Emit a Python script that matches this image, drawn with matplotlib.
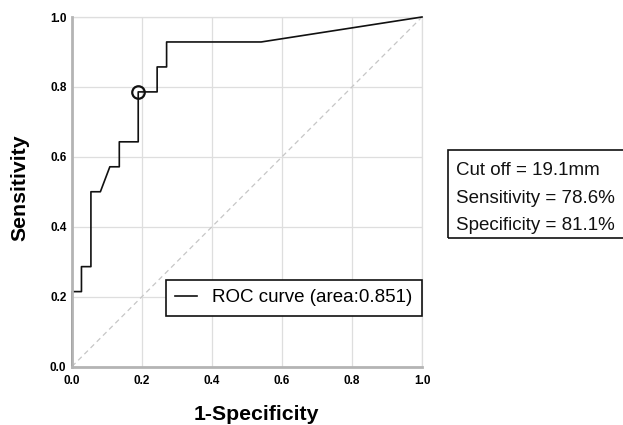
import matplotlib
matplotlib.use("Agg")
import matplotlib.pyplot as plt
from matplotlib.patches import Rectangle

plt.rcParams['font.family'] = ['Liberation Sans', 'DejaVu Sans']

# ROC curve data (1-specificity, sensitivity)
fpr = [0.0, 0.0, 1/37, 1/37, 2/37, 2/37, 3/37, 4/37, 5/37, 5/37, 7/37, 7/37,
       9/37, 9/37, 10/37, 10/37, 20/37, 1.0]
tpr = [0.0, 3/14, 3/14, 4/14, 4/14, 7/14, 7/14, 8/14, 8/14, 9/14, 9/14, 11/14,
       11/14, 12/14, 12/14, 13/14, 13/14, 1.0]
cut_fpr = 7/37
cut_tpr = 11/14
ticks = [0.0, 0.2, 0.4, 0.6, 0.8, 1.0]
tick_labels = ["0.0", "0.2", "0.4", "0.6", "0.8", "1.0"]
legend_label = "ROC curve (area:0.851)"
info_lines = ["Cut off = 19.1mm", "Sensitivity = 78.6%", "Specificity = 81.1%"]

W, H = 623, 425
fig = plt.figure(figsize=(W/100, H/100), dpi=100)
ax = fig.add_axes([72/W, (H-366.5)/H, 350/W, 349.5/H])

ax.set_xlim(0, 1)
ax.set_ylim(0, 1)
ax.grid(True, color='#dedede', linewidth=0.9)
ax.set_axisbelow(True)

ax.plot([0, 1], [0, 1], color='#c6c6c6', linewidth=0.9, dashes=(4, 3), zorder=2)
ax.plot(fpr, tpr, color='#111111', linewidth=1.2, label=legend_label, zorder=3,
        clip_on=False)
ax.plot([cut_fpr], [cut_tpr], marker='o', markersize=9, markerfacecolor='none',
        markeredgecolor='#111111', markeredgewidth=1.6, linestyle='none', zorder=4)

ax.set_xticks(ticks)
ax.set_xticklabels(tick_labels)
ax.set_yticks(ticks)
ax.set_yticklabels(tick_labels)
ax.tick_params(length=0, labelsize=8.5)
ax.tick_params(axis='x', pad=6)
ax.tick_params(axis='y', pad=4)
for lab in ax.get_xticklabels() + ax.get_yticklabels():
    lab.set_fontweight('bold')

for s in ['left', 'bottom']:
    ax.spines[s].set_color('#b4b4b4')
    ax.spines[s].set_linewidth(2.0)
    ax.spines[s].set_zorder(5)
for s in ['top', 'right']:
    ax.spines[s].set_color('#dedede')
    ax.spines[s].set_linewidth(0.9)

ax.set_xlabel('1-Specificity', fontsize=15.3, fontweight='bold')
ax.set_ylabel('Sensitivity', fontsize=15.3, fontweight='bold')
ax.xaxis.set_label_coords(0.526, -0.109)
ax.yaxis.set_label_coords(-0.121, 0.511)

leg = ax.legend(loc='lower right', bbox_to_anchor=(1.0, 0.145), borderaxespad=0,
                fontsize=13.5, handlelength=1.2, handletextpad=0.8,
                borderpad=0.5, fancybox=False, framealpha=1, edgecolor='#111111')
leg.get_frame().set_linewidth(1.2)

fig.patches.append(Rectangle((447.5/W, (H-238)/H), 200/W, 88/H,
                             transform=fig.transFigure, fill=False,
                             edgecolor='#111111', linewidth=1.2, clip_on=False))
for i, (txt, yb) in enumerate(zip(info_lines, [175, 203, 230])):
    fig.text(456/W, (H-yb)/H, txt, fontsize=13.5, va='baseline', ha='left',
             color='#111111')

fig.savefig('out.png', dpi=100)
